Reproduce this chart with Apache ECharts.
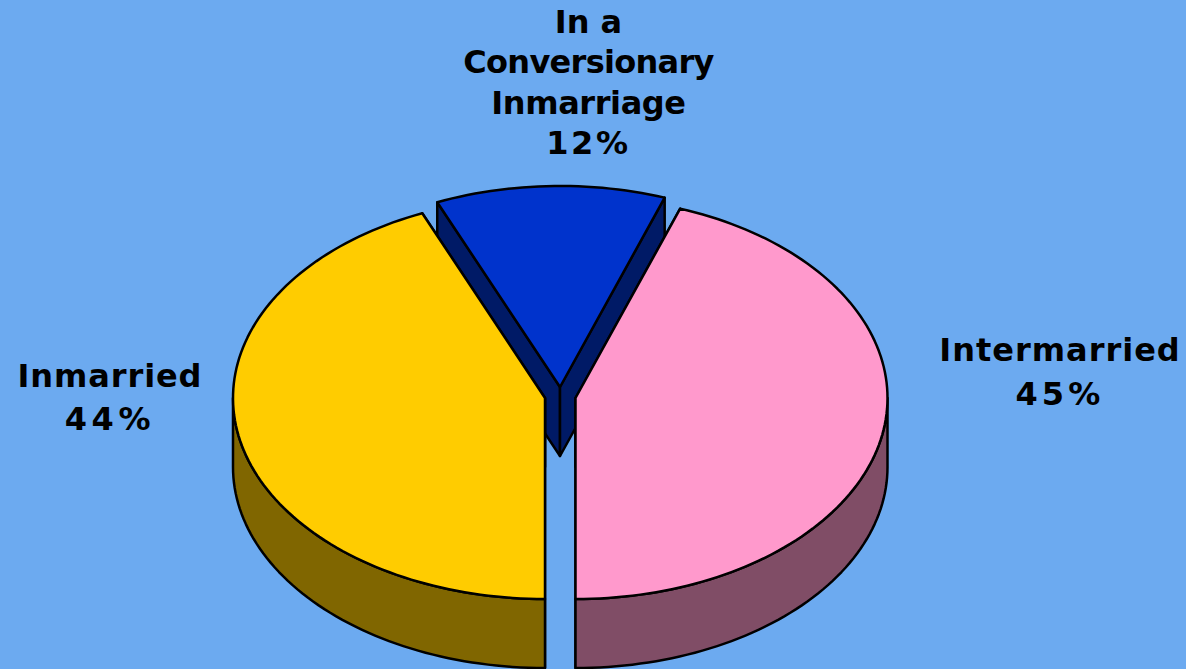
<!DOCTYPE html>
<html>
<head>
<meta charset="utf-8">
<style>
html,body{margin:0;padding:0;background:#6CAAF0;overflow:hidden}
#c{width:1186px;height:669px}
</style>
<script src="https://cdn.jsdelivr.net/npm/echarts@6/dist/echarts.min.js"></script>
</head>
<body>
<div id="c"></div>
<script>
// Data (clockwise from the bottom of the pie)
const categories = ['Inmarried', 'In a\nConversionary\nInmarriage', 'Intermarried'];
const percents = [44, 12, 45];

// Styling
const topColors = ['#FFCC00', '#0033CC', '#FF99CC'];
const sideColors = ['#806600', '#001A66', '#804D66'];
const explodeX = [-15, 0, 15.5];
const explodeY = [0, -11, 0];
const layers = [2, 1, 2];
const labelX = [110, 588.5, 1060];
const labelY = [397.5, 82.5, 372];
const labelLine = [43, 40.4, 44];
const tracking = {
  'In a': 0, 'Conversionary': -0.7, 'Inmarriage': -0.4, 'Intermarried': 1, 'Inmarried': 0.9,
  '12%': 2.7, '44%': 4.7, '45%': 4.2
};

const PIE = {cx: 560, cy: 398, rx: 312, ry: 201, depth: 69};
const total = percents.reduce((a, b) => a + b, 0);

function pt(cx, cy, deg) {
  const t = deg * Math.PI / 180;
  return [cx - PIE.rx * Math.sin(t), cy + PIE.ry * Math.cos(t)];
}
function arc(cx, cy, a0, a1) {
  const out = [], n = Math.max(2, Math.ceil(Math.abs(a1 - a0) / 1.5));
  for (let i = 0; i <= n; i++) out.push(pt(cx, cy, a0 + (a1 - a0) * i / n));
  return out;
}
const down = p => [p[0], p[1] + PIE.depth];
const lineStyle = fill => ({fill: fill, stroke: '#000', lineWidth: 2.5, lineJoin: 'round'});

function renderItem(params, api) {
  const i = params.dataIndex;
  let before = 0;
  for (let k = 0; k < i; k++) before += api.value(1, k);
  const a0 = before / total * 360;
  const a1 = (before + api.value(1)) / total * 360;
  const cx = PIE.cx + explodeX[i], cy = PIE.cy + explodeY[i];
  const z = layers[i], kids = [];
  const poly = (points, fill, zz) => kids.push({type: 'polygon', z2: zz, shape: {points: points}, style: lineStyle(fill)});

  // radial cut faces
  [a0, a1].forEach(a => {
    const e = pt(cx, cy, a);
    poly([[cx, cy], e, down(e), [cx, cy + PIE.depth]], sideColors[i], z);
  });
  // outer wall: only the front half of the rim shows
  [[0, 90], [270, 360]].forEach(r => {
    const s = Math.max(a0, r[0]), t = Math.min(a1, r[1]);
    if (t > s) {
      const rim = arc(cx, cy, s, t);
      poly(rim.concat(rim.map(down).reverse()), sideColors[i], z);
    }
  });
  // top face
  poly([[cx, cy]].concat(arc(cx, cy, a0, a1)), topColors[i], z + 1);
  // label
  kids.push({
    type: 'text', z2: 10,
    style: {
      x: labelX[i], y: labelY[i],
      text: api.value(0) + '\n' + api.value(1) + '%',
      font: 'bold 32px "DejaVu Sans", sans-serif',
      lineHeight: labelLine[i], fill: '#000',
      align: 'center', verticalAlign: 'middle'
    }
  });
  return {type: 'group', children: kids};
}

const chart = echarts.init(document.getElementById('c'), null, {renderer: 'svg'});
function applyTracking() {
  document.querySelectorAll('#c text').forEach(t => {
    const v = tracking[t.textContent.trim()];
    if (v !== undefined) t.style.letterSpacing = v + 'px';
  });
}
chart.on('finished', applyTracking);
chart.setOption({
  backgroundColor: '#6CAAF0',
  animation: false,
  series: [{
    type: 'custom',
    coordinateSystem: 'none',
    renderItem: renderItem,
    silent: true,
    dimensions: [{name: 'category', type: 'ordinal'}, {name: 'percent', type: 'number'}],
    encode: {itemName: 0, value: 1},
    data: categories.map((c, i) => [c, percents[i]])
  }]
});
applyTracking();
</script>
</body>
</html>
